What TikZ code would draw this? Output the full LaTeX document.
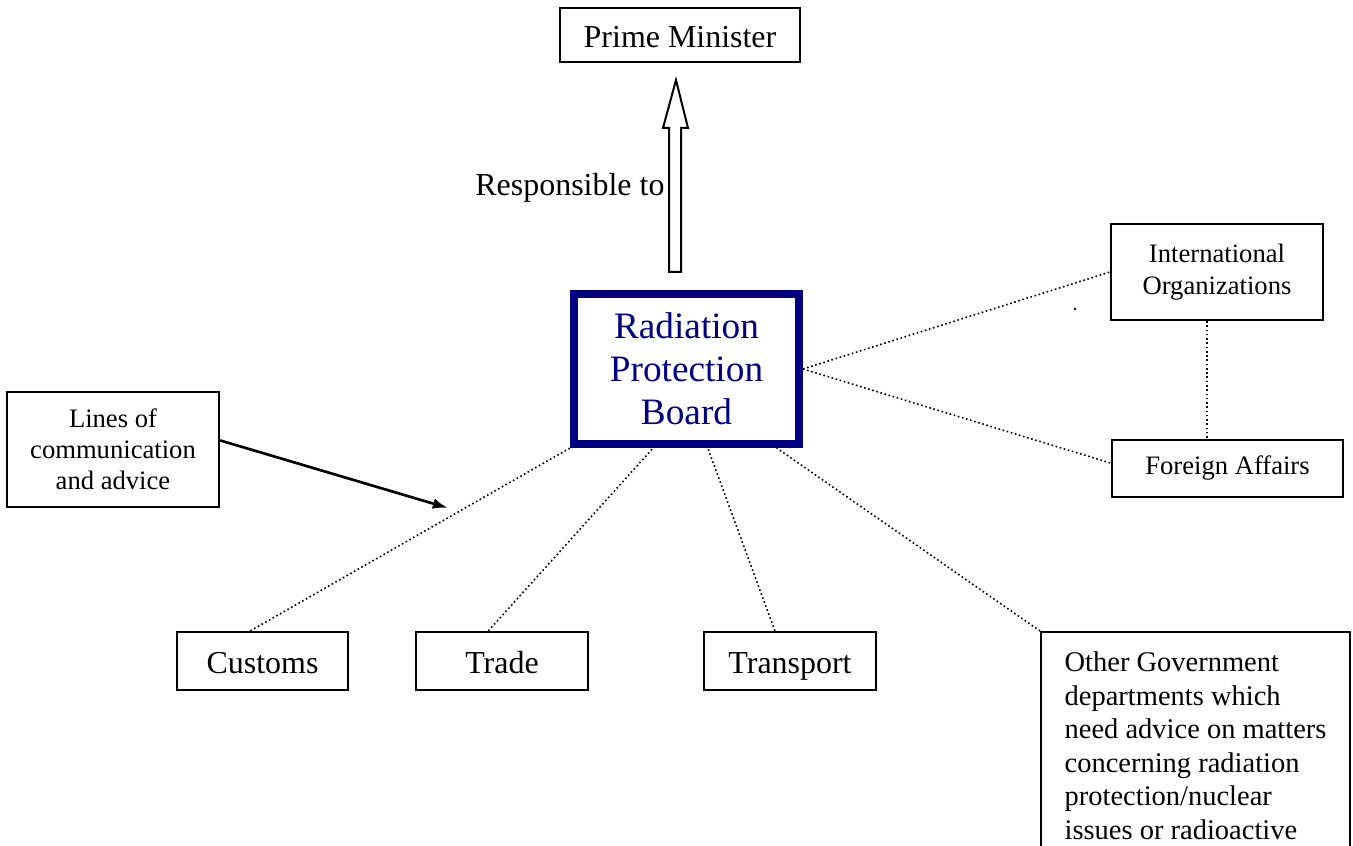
\documentclass[tikz,border=0pt]{standalone}
\usepackage{fontspec}
\setmainfont{Liberation Serif}
\usetikzlibrary{arrows,arrows.meta}
\definecolor{navyblue}{RGB}{0,0,128}

\begin{document}
\begin{tikzpicture}
  [x=1.32cm,y=-1.32cm,
   box/.style={draw,line width=0.75pt,inner sep=0pt,align=center,font=\fontsize{12}{13.8}\selectfont},
   onebox/.style={box,text height=10pt,text depth=0.6pt},
   smallbox/.style={box,font=\fontsize{10}{11.8}\selectfont},
   link/.style={densely dotted,line width=0.6pt}]

  \useasboundingbox (0,0) rectangle (13.53,8.46);
  \clip (0,0) rectangle (13.53,8.46);

  \node[onebox,minimum width=3.17cm,minimum height=0.71cm] (pm) at (6.80,0.35) {Prime Minister};
  \node[box,draw=navyblue,text=navyblue,line width=3pt,minimum width=2.97cm,minimum height=1.98cm,
        font=\fontsize{14}{16.1}\selectfont] (rpb) at (6.865,3.69) {Radiation\\Protection\\Board};
  \node[smallbox,minimum width=2.80cm,minimum height=1.27cm] (intorg) at (12.17,2.72) {International\\Organizations};
  \node[smallbox,minimum width=3.05cm,minimum height=0.75cm] (foreign) at (12.275,4.685) {Foreign Affairs};
  \node[smallbox,minimum width=2.80cm,minimum height=1.52cm,font=\fontsize{10}{11.6}\selectfont] (lines) at (1.13,4.495) {Lines of\\communication\\and advice};
  \node[onebox,minimum width=2.26cm,minimum height=0.77cm] (customs) at (2.625,6.61) {Customs};
  \node[onebox,minimum width=2.27cm,minimum height=0.77cm] (trade) at (5.02,6.61) {Trade};
  \node[onebox,minimum width=2.27cm,minimum height=0.77cm] (transport) at (7.90,6.61) {Transport};
  \node[box,anchor=north west,align=left,inner ysep=0.26cm,minimum width=4.08cm,
        font=\fontsize{10.7}{12.6}\selectfont] (other) at (10.40,6.31)
        {Other Government\\departments which\\need advice on matters\\concerning radiation\\protection/nuclear\\issues or radioactive};

  % responsible to
  \draw[line width=0.75pt] (6.69,2.72) -- (6.69,1.28) -- (6.63,1.28) -- (6.76,0.80)
    -- (6.88,1.28) -- (6.81,1.28) -- (6.81,2.72) -- cycle;
  \node[anchor=east,inner sep=0pt,font=\fontsize{12}{14}\selectfont] (resp) at (6.65,1.88) {Responsible to};

  % lines of communication
  \draw[link] ([xshift=-0.16cm]customs.north) -- (rpb.south west);
  \draw[link] ([xshift=-0.18cm]trade.north) -- ([xshift=-0.44cm]rpb.south);
  \draw[link] ([xshift=-0.20cm]transport.north) -- ([xshift=0.28cm]rpb.south);
  \draw[link] (other.north west) -- ([xshift=1.19cm]rpb.south);
  \draw[link] (rpb.east) -- (intorg.west);
  \draw[link] (rpb.east) -- ([yshift=0.07cm]foreign.west);
  \draw[link] ([xshift=-0.13cm]intorg.south) -- ([xshift=-0.13cm]intorg.south |- foreign.north);
  \fill (10.75,3.09) circle (0.5pt);

  \coordinate (hit) at (4.48,5.08);
  \draw[-{Latex[length=0.2cm,width=0.14cm]},line width=1pt] ([yshift=0.12cm]lines.east) -- (hit);

\end{tikzpicture}
\end{document}
